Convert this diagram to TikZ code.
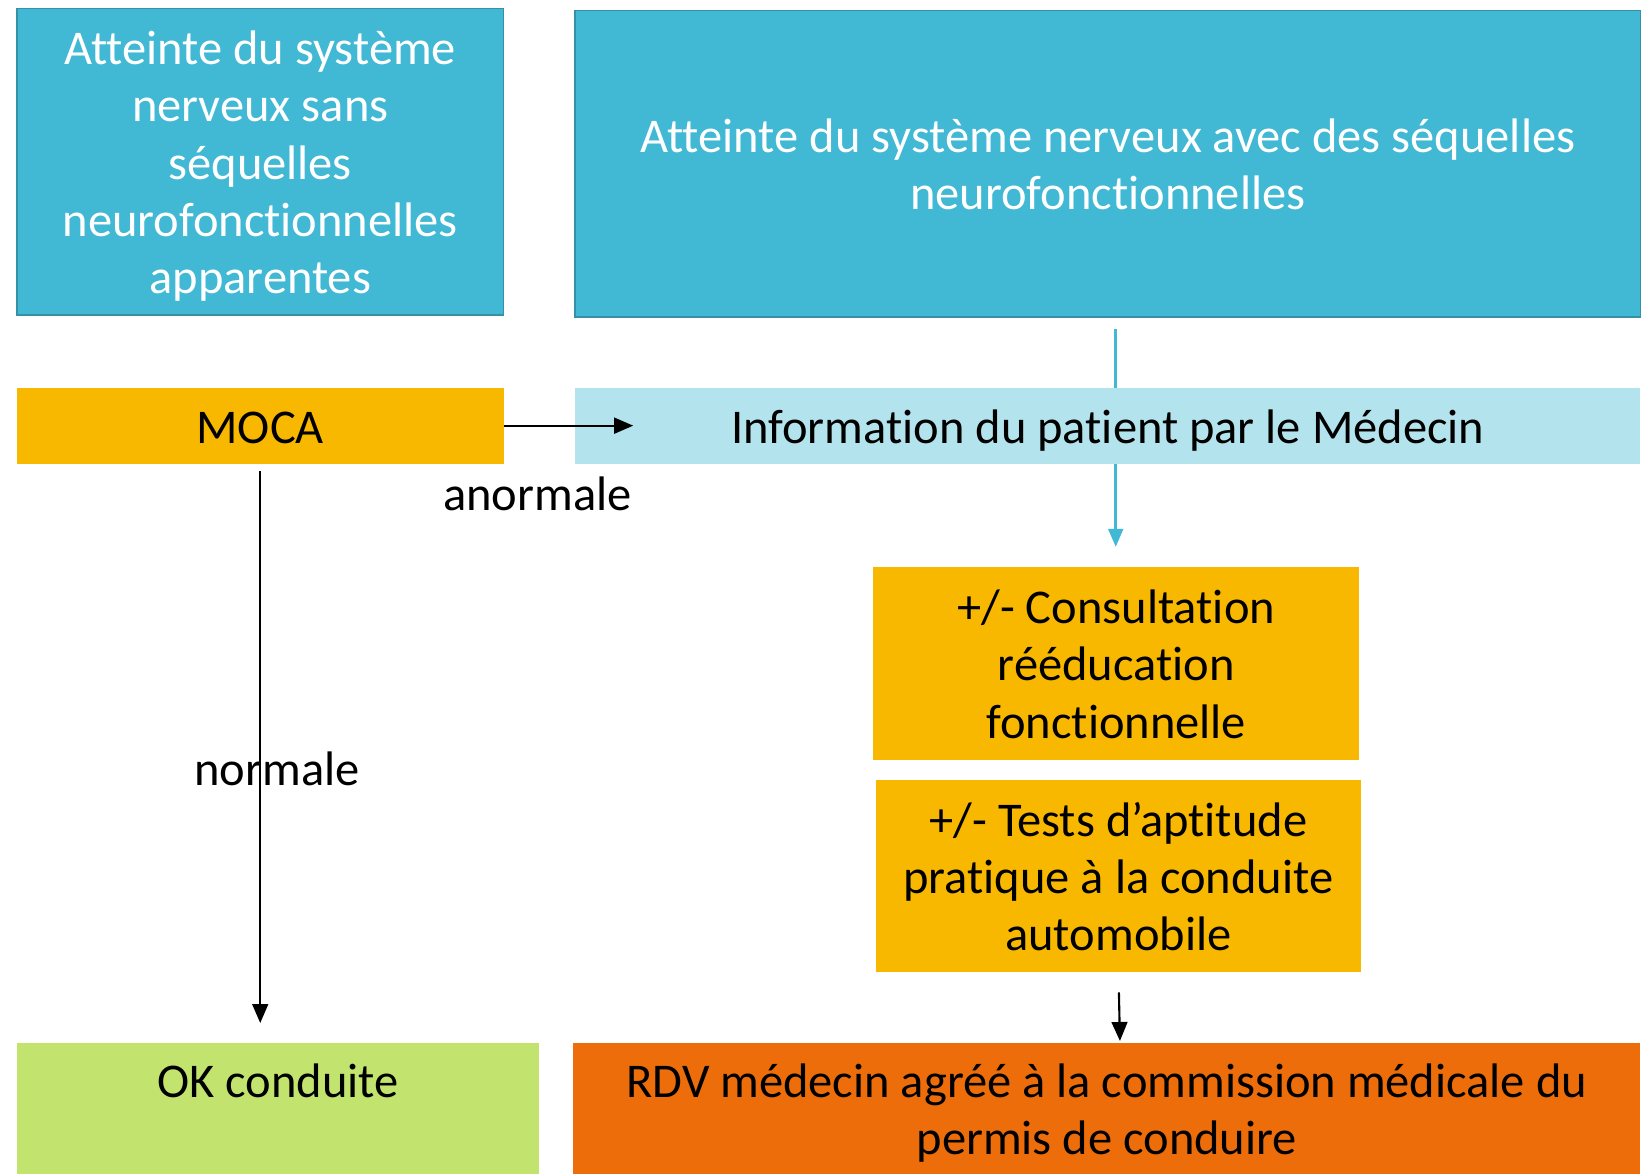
\documentclass[tikz,border=0pt]{standalone}
\usepackage{fontspec}
\setmainfont{Carlito}[Ligatures={NoCommon,NoContextual,NoRare}]
\usetikzlibrary{arrows.meta,backgrounds}
\definecolor{dcyan}{HTML}{41B8D4}
\definecolor{dcyanb}{HTML}{3690A6}
\definecolor{lcyan}{HTML}{B3E3ED}
\definecolor{amber}{HTML}{F9B800}
\definecolor{lgreen}{HTML}{C2E46F}
\definecolor{orng}{HTML}{EC6D0A}
\tikzset{
  base/.style={rectangle, inner sep=0pt, align=center, font=\fontsize{46}{54.5}\selectfont, text depth=0pt},
  one/.style={text height=33pt},
  two/.style={text height=87.5pt},
  three/.style={text height=142pt},
  five/.style={text height=251pt},
  topbox/.style={base, fill=dcyan, draw=dcyanb, line width=1.5pt, text=white},
  mocabox/.style={base, fill=amber, text=black},
  infobox/.style={base, fill=lcyan, text=black},
  okbox/.style={base, fill=lgreen, text=black},
  rdvbox/.style={base, fill=orng, text=black},
  lbl/.style={inner sep=0pt, font=\fontsize{46}{54.5}\selectfont, text=black},
  blackarrow/.style={draw=black, line width=2pt, -{Triangle[length=18pt,width=15pt]}},
  cyanarrow/.style={draw=dcyan, line width=2.5pt, -{Triangle[length=17pt,width=14pt]}}
}
\begin{document}
\begin{tikzpicture}[x=1pt,y=-1pt]
\useasboundingbox (0,0) rectangle (1568,1114);
\node[topbox, five, minimum width=462pt, minimum height=291pt] (box1) at (247,153.5)
  {Atteinte du système\\nerveux sans\\séquelles\\neurofonctionnelles\\apparentes};
\node[topbox, two, minimum width=1011pt, minimum height=291pt] (box2) at (1051.5,155.5)
  {Atteinte du système nerveux avec des séquelles\\neurofonctionnelles};
\coordinate (c1) at (1059,312);
\coordinate (c2) at (1059,519);
\draw[cyanarrow] (c1) -- (c2);
\node[mocabox, one, minimum width=462pt, minimum height=72pt] (moca) at (247,404) {MOCA};
\node[infobox, one, minimum width=1011pt, minimum height=72pt] (info) at (1051.5,404)
  {Information du patient par le Médecin};
\node[mocabox, three, minimum width=461pt, minimum height=183pt] (consult) at (1059.5,629.5)
  {+/- Consultation\\rééducation\\fonctionnelle};
\node[mocabox, three, minimum width=461pt, minimum height=183pt] (tests) at (1061.5,831.5)
  {+/- Tests d’aptitude\\pratique à la conduite\\automobile};
\node[okbox, two, minimum width=496pt, minimum height=124pt] (ok) at (264,1052)
  {OK conduite\\\mbox{}};
\node[rdvbox, two, minimum width=1013pt, minimum height=124pt] (rdv) at (1050.5,1052)
  {RDV médecin agréé à la commission médicale du\\permis de conduire};
\coordinate (a1) at (601,404);
\draw[blackarrow] (moca.east) -- (a1);
\node[lbl] (anorm) at (510,469) {anormale};
\node[lbl] (norm) at (263,730) {normale};
\coordinate (v1) at (247,447);
\coordinate (v2) at (247,971);
\draw[blackarrow] (v1) -- (v2);
\coordinate (t1) at (1062,942);
\coordinate (t2) at (1063,988);
\draw[blackarrow] (t1) -- (t2);
\end{tikzpicture}
\end{document}
